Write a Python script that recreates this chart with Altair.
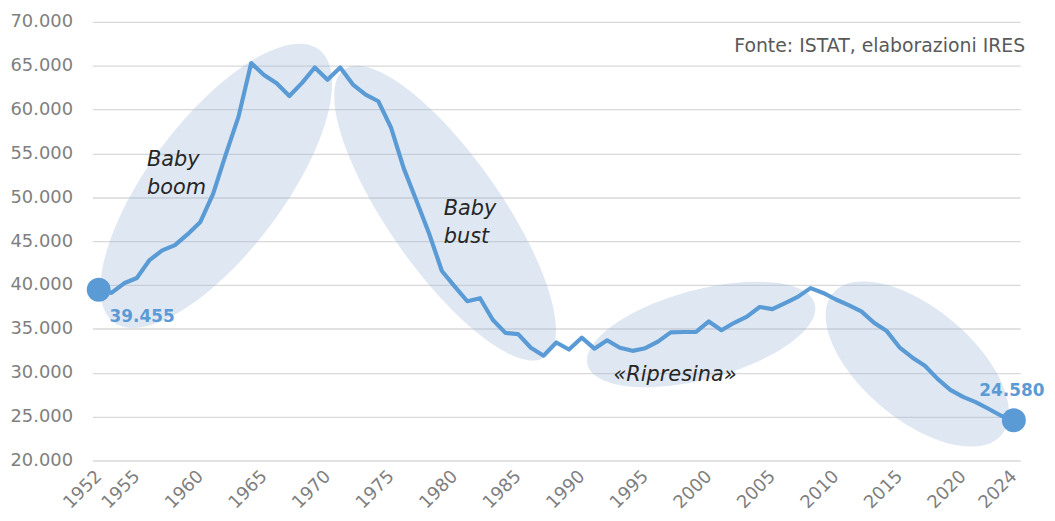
import math
import altair as alt
import pandas as pd

# ---- data ----
years = list(range(1952, 2025))
births = [39455, 39100, 40200, 40800, 42850, 43950, 44550, 45800, 47200, 50400,
          54900, 59200, 65300, 63950, 63000, 61550, 63050, 64800, 63400, 64800,
          62850, 61700, 60950, 57950, 53300, 49600, 45850, 41600, 39850, 38150,
          38500, 36050, 34550, 34400, 32850, 31950, 33450, 32650, 34000, 32750,
          33700, 32850, 32500, 32800, 33550, 34600, 34650, 34650, 35850, 34850,
          35700, 36400, 37500, 37250, 37950, 38650, 39650, 39100, 38350, 37700,
          37000, 35700, 34750, 32900, 31750, 30800, 29300, 28050, 27250, 26650,
          25900, 25100, 24580]

x_tick_years = [1952, 1955, 1960, 1965, 1970, 1975, 1980, 1985, 1990, 1995,
                2000, 2005, 2010, 2015, 2020, 2024]
y_ticks = [20000, 25000, 30000, 35000, 40000, 45000, 50000, 55000, 60000, 65000, 70000]

# highlighted phases (centre in data units)
phase_year = [1961.25, 1979.25, 1999.4, 2016.4]
phase_value = [51300, 48200, 34370, 31000]
# annotation texts
note_text = ["Baby\nboom", "Baby\nbust", "«Ripresina»"]
note_year = [1955.8, 1979.15, 1992.5]
note_value = [53600, 47950, 29050]

source_text = "Fonte: ISTAT, elaborazioni IRES"

# ---- styling ----
W, H = 935, 442
BLUE = "#5b9bd5"
FONT = "DejaVu Sans"

# ellipse geometry (semi-major px, semi-minor px, rotation deg)
ell_geom = [(172, 67.5, 307), (177, 57, 55), (118.5, 45, 345), (111, 56, 40)]


def ellipse_path(ratio, n=96):
    pts = []
    for i in range(n):
        t = 2 * math.pi * i / n
        pts.append(f"{math.cos(t):.4f} {ratio * math.sin(t):.4f}")
    return "M " + " L ".join(pts) + " Z"


df = pd.DataFrame({"year": years, "births": births})
ends = df.iloc[[0, -1]].copy()
ends["label"] = ends["births"].map(lambda v: f"{v:,}".replace(",", "."))

ell_df = pd.DataFrame({
    "year": phase_year,
    "births": phase_value,
    "path": [ellipse_path(b / a) for a, b, _ in ell_geom],
    "size": [(2 * a) ** 2 for a, _, _ in ell_geom],
    "angle": [ang for _, _, ang in ell_geom],
})
notes_df = pd.DataFrame({"year": note_year, "births": note_value, "text": note_text})

xscale = alt.Scale(domain=[1951.5, 2024.5], nice=False, zero=False)
yscale = alt.Scale(domain=[20000, 70000], nice=False, zero=False)

x_enc = alt.X("year:Q", scale=xscale, title=None,
              axis=alt.Axis(values=x_tick_years, format="d", labelAngle=315,
                            labelAlign="right", labelBaseline="middle",
                            labelPadding=13, grid=False, ticks=False, domain=False,
                            labelFont=FONT, labelFontSize=18, labelColor="#7f7f7f",
                            labelOverlap=False))
y_enc = alt.Y("births:Q", scale=yscale, title=None,
              axis=alt.Axis(values=y_ticks,
                            labelExpr="replace(format(datum.value, ',d'), ',', '.')",
                            grid=True, gridColor="#d9d9d9", gridWidth=1.3,
                            ticks=False, domain=False, labelPadding=20,
                            labelFont=FONT, labelFontSize=18, labelColor="#7f7f7f"))

ellipses = alt.Chart(ell_df).mark_point(
    filled=True, fill="#9db6d6", fillOpacity=0.32, strokeWidth=0, opacity=1
).encode(
    x=x_enc, y=y_enc,
    shape=alt.Shape("path:N", scale=None),
    size=alt.Size("size:Q", scale=None),
    angle=alt.Angle("angle:Q", scale=None),
)

line = alt.Chart(df).mark_line(color=BLUE, strokeWidth=4.2, strokeJoin="round").encode(
    x="year:Q", y="births:Q"
)

dots = alt.Chart(ends).mark_circle(color=BLUE, size=580, opacity=1).encode(
    x="year:Q", y="births:Q"
)

lab_first = alt.Chart(ends.iloc[[0]]).mark_text(
    color=BLUE, font=FONT, fontSize=17, fontWeight="bold", align="left",
    baseline="middle", dx=11, dy=27
).encode(x="year:Q", y="births:Q", text="label:N")

lab_last = alt.Chart(ends.iloc[[1]]).mark_text(
    color=BLUE, font=FONT, fontSize=17, fontWeight="bold", align="center",
    baseline="middle", dx=-2, dy=-29
).encode(x="year:Q", y="births:Q", text="label:N")

notes = alt.Chart(notes_df).mark_text(
    font=FONT, fontSize=21, fontStyle="italic", color="#262626", align="left",
    baseline="alphabetic", lineBreak="\n", lineHeight=28
).encode(x="year:Q", y="births:Q", text="text:N")

source = alt.Chart(pd.DataFrame({"t": [source_text]})).mark_text(
    font=FONT, fontSize=19, color="#595959", align="right", baseline="alphabetic"
).encode(x=alt.value(W + 5), y=alt.value(30), text="t:N")

chart = alt.layer(ellipses, line, dots, lab_first, lab_last, notes, source).properties(
    width=W, height=H,
    autosize=alt.AutoSizeParams(type="none"),
    padding={"left": 85, "top": 12, "right": 27, "bottom": 59},
    background="white",
).configure_view(stroke=None)

chart.save("out.html", embed_options={"renderer": "svg", "actions": False})
